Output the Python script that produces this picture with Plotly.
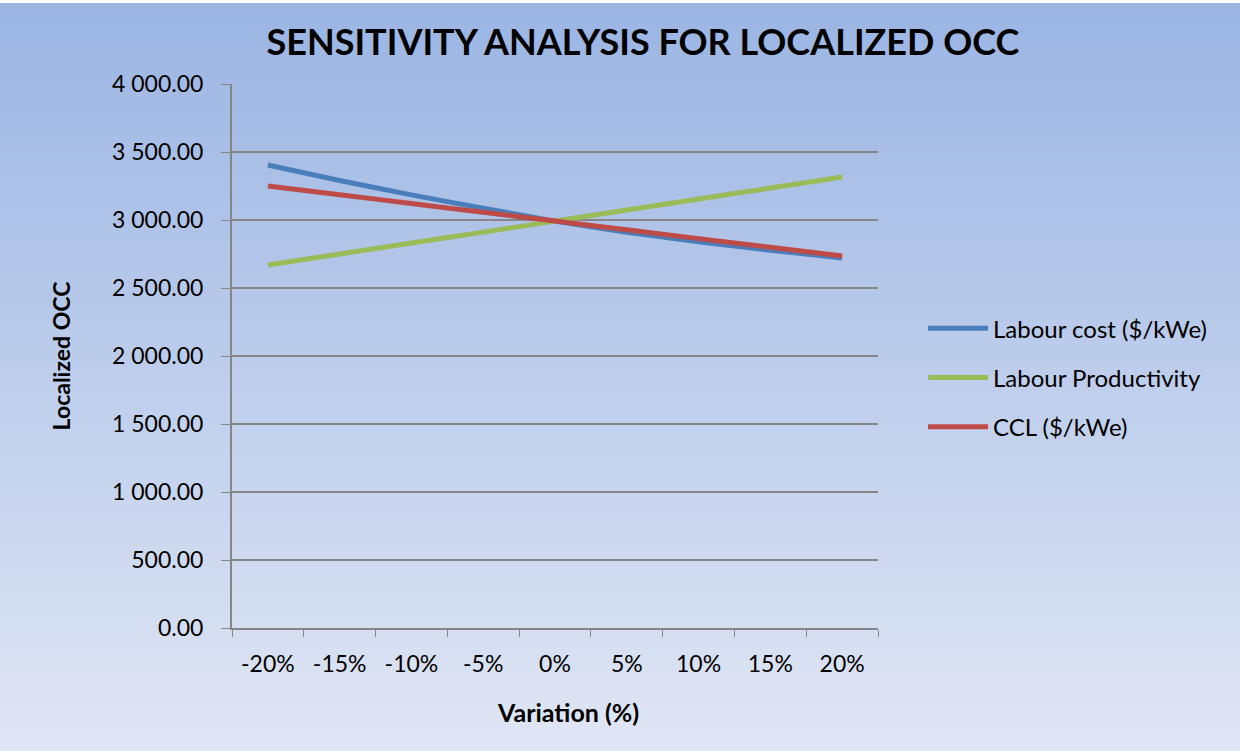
import plotly.graph_objects as go

# Variation categories on the x axis
variation = ["-20%", "-15%", "-10%", "-5%", "0%", "5%", "10%", "15%", "20%"]

# Localized OCC for each sensitivity driver
labour_cost = [3404, 3290, 3185, 3086, 2992, 2910, 2840, 2778, 2721]
labour_productivity = [2669, 2750, 2831, 2911, 2992, 3073, 3154, 3235, 3316]
ccl = [3250, 3186, 3121, 3057, 2992, 2928, 2863, 2799, 2735]

y_ticks = [0, 500, 1000, 1500, 2000, 2500, 3000, 3500, 4000]

FONT = "Lato"
GRID = "#868686"

fig = go.Figure()

series = [
    ("Labour cost ($/kWe)", labour_cost, "#4a7ebb"),
    ("Labour Productivity", labour_productivity, "#9bbb59"),
    ("CCL ($/kWe)", ccl, "#be4b48"),
]
for name, vals, color in series:
    fig.add_trace(go.Scatter(
        x=variation, y=vals, name=name, mode="lines", legendgroup=name,
        line=dict(color=color, width=5, shape="spline", smoothing=0.6),
    ))

# Vertical gradient background built from thin horizontal strips
top = (155, 181, 227)
bottom = (224, 230, 244)
n = 120
y_top, y_bot = 1.1489, -0.23
step = (y_top - y_bot) / n
for i in range(n):
    t = i / (n - 1)
    c = tuple(round(top[k] + (bottom[k] - top[k]) * t) for k in range(3))
    y1 = y_top - i * step
    y0 = max(y1 - step - 0.002, y_bot)
    fig.add_shape(type="rect", xref="paper", yref="paper",
                  x0=-0.5, x1=2.0, y0=y0, y1=y1,
                  fillcolor="rgb(%d,%d,%d)" % c, line_width=0, layer="below")

fig.update_layout(
    width=1240, height=751,
    margin=dict(l=232, r=362, t=84, b=123),
    paper_bgcolor="white",
    plot_bgcolor="rgba(0,0,0,0)",
    separators=". ",
    font=dict(family=FONT, color="black", size=20),
    title=dict(text="<b>SENSITIVITY ANALYSIS FOR LOCALIZED OCC</b>",
               x=0.5185, xanchor="center", y=0.944, yanchor="middle",
               font=dict(family=FONT, size=36, color="black")),
    legend=dict(x=1.0697, y=0.46, xanchor="left", yanchor="middle",
                bgcolor="rgba(0,0,0,0)", font=dict(size=24, family=FONT),
                itemwidth=60, traceorder="grouped", tracegroupgap=15),
    showlegend=True,
    annotations=[dict(text="<b>Variation (%)</b>", xref="paper", yref="paper",
                      x=0.52, y=-0.154, xanchor="center", yanchor="middle",
                      showarrow=False, font=dict(size=25, family=FONT))],
)

fig.update_xaxes(
    type="category", range=[-0.5, 8.5],
    tickson="boundaries", ticks="outside", ticklen=7, tickcolor=GRID,
    showline=True, linecolor=GRID, linewidth=2,
    showgrid=False, ticklabelstandoff=14,
    tickfont=dict(size=23, family=FONT),
)
fig.update_yaxes(
    range=[0, 4000], tickvals=y_ticks, tickformat=",.2f",
    ticks="outside", ticklen=9, tickcolor=GRID,
    showline=True, linecolor=GRID, linewidth=2,
    showgrid=True, gridcolor=GRID, gridwidth=2, zeroline=False,
    tickfont=dict(size=23, family=FONT), ticklabelstandoff=13,
    title=dict(text="<b>Localized OCC</b>", font=dict(size=23, family=FONT), standoff=35),
)

fig.write_html("out.html")
